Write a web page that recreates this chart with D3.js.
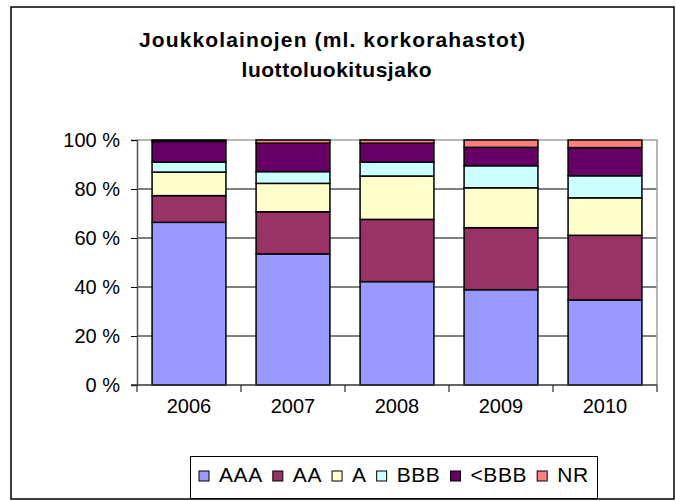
<!DOCTYPE html>
<html>
<head>
<meta charset="utf-8">
<script src="https://cdn.jsdelivr.net/npm/d3@7"></script>
<style>
  body { margin: 0; background: #fff; }
  text { font-family: "Liberation Sans", Arial, sans-serif; fill: #000; }
</style>
</head>
<body>
<div id="chart"></div>
<script>
// data (percent shares per year)
var years = ["2006", "2007", "2008", "2009", "2010"];
var ratings = ["AAA", "AA", "A", "BBB", "<BBB", "NR"];
var aaa   = [66.4, 53.5, 42.2, 38.9, 34.7];
var aa    = [10.9, 17.2, 25.4, 25.3, 26.4];
var a     = [9.6, 11.6, 17.7, 16.3, 15.3];
var bbb   = [4.1, 4.8, 5.7, 9.0, 9.0];
var belowBbb = [8.4, 11.6, 7.7, 7.5, 11.5];
var nr    = [0.6, 1.3, 1.3, 3.0, 3.1];
var yTicks = [0, 20, 40, 60, 80, 100];
var titleLines = ["Joukkolainojen (ml. korkorahastot)", "luottoluokitusjako"];

var colors = ["#9999ff", "#993366", "#ffffcc", "#ccffff", "#660066", "#ff8080"];

var width = 676, height = 501;
var plot = { left: 137, right: 657, top: 140, bottom: 385 };

var svg = d3.select("#chart").append("svg")
    .attr("width", width)
    .attr("height", height);

// outer frame
svg.append("rect")
    .attr("x", 11).attr("y", 7)
    .attr("width", 663).attr("height", 492)
    .attr("fill", "#fff")
    .attr("stroke", "#000")
    .attr("stroke-width", 1.5);

// title
var titleWidths = [386, 190];
svg.selectAll(".title")
    .data(titleLines)
    .enter()
    .append("text")
    .attr("class", "title")
    .attr("x", (d, i) => i == 0 ? 332 : 336.5)
    .attr("y", (d, i) => 47 + i * 30)
    .attr("text-anchor", "middle")
    .attr("font-size", 21)
    .attr("font-weight", "bold")
    .attr("textLength", (d, i) => titleWidths[i])
    .attr("lengthAdjust", "spacing")
    .text(d => d);

// build rows for stacking
var series = [aaa, aa, a, bbb, belowBbb, nr];
var rows = years.map(function(y, i) {
    var row = { year: y };
    ratings.forEach(function(r, j) { row[r] = series[j][i]; });
    return row;
});
var stacked = d3.stack().keys(ratings)(rows);

var x = d3.scaleBand()
    .domain(years)
    .range([plot.left, plot.right])
    .paddingInner(0.29)
    .paddingOuter(0.145);

var y = d3.scaleLinear()
    .domain([0, 100])
    .range([plot.bottom, plot.top]);

// gridlines
svg.append("g")
    .selectAll("line")
    .data(yTicks.filter(d => d > 0 && d < 100))
    .enter()
    .append("line")
    .attr("x1", plot.left).attr("x2", plot.right)
    .attr("y1", d => y(d)).attr("y2", d => y(d))
    .attr("stroke", "#000")
    .attr("stroke-width", 1);

// plot area border (grey, top and right)
svg.append("path")
    .attr("d", `M${plot.left},${y(100)}H${plot.right}V${plot.bottom}`)
    .attr("fill", "none")
    .attr("stroke", "#a0a0a0")
    .attr("stroke-width", 1.5);

// bars
svg.append("g")
    .selectAll("g")
    .data(stacked)
    .enter()
    .append("g")
    .attr("fill", (d, i) => colors[i])
    .selectAll("rect")
    .data(d => d)
    .enter()
    .append("rect")
    .attr("x", d => x(d.data.year))
    .attr("width", x.bandwidth())
    .attr("y", d => y(d[1]))
    .attr("height", d => y(d[0]) - y(d[1]))
    .attr("stroke", "#000")
    .attr("stroke-width", 1.5);

// y axis
var leftAxis = d3.axisLeft(y)
    .tickValues(yTicks)
    .tickSize(6)
    .tickPadding(11)
    .tickFormat(d => d + " %");

var yAxis = svg.append("g")
    .attr("transform", `translate(${plot.left},0)`)
    .call(leftAxis);
yAxis.select(".domain").attr("stroke", "#555").attr("stroke-width", 1.5);
yAxis.selectAll(".tick line").attr("stroke", "#000");
yAxis.selectAll("text")
    .attr("font-size", 20)
    .attr("font-family", "Liberation Sans, Arial, sans-serif")
    .attr("fill", "#000");

// x axis: labels at centres, ticks between categories
var bottomAxis = d3.axisBottom(x).tickSize(0).tickPadding(14);
var xAxis = svg.append("g")
    .attr("transform", `translate(0,${plot.bottom})`)
    .call(bottomAxis);
xAxis.select(".domain").remove();
xAxis.selectAll("text")
    .attr("font-size", 20)
    .attr("font-family", "Liberation Sans, Arial, sans-serif")
    .attr("fill", "#000");

var bounds = years.map(d => x(d) - x.step() * x.paddingInner() / 2);
bounds.push(plot.right);
bounds[0] = plot.left;
svg.append("g")
    .selectAll("line")
    .data(bounds)
    .enter()
    .append("line")
    .attr("x1", d => d).attr("x2", d => d)
    .attr("y1", plot.bottom).attr("y2", plot.bottom + 7)
    .attr("stroke", "#555")
    .attr("stroke-width", 1.5);

svg.append("line")
    .attr("x1", plot.left - 6).attr("x2", plot.right)
    .attr("y1", plot.bottom).attr("y2", plot.bottom)
    .attr("stroke", "#333")
    .attr("stroke-width", 1.5);

// legend
var legend = svg.append("g");
legend.append("rect")
    .attr("x", 190.5).attr("y", 456.5)
    .attr("width", 407).attr("height", 42)
    .attr("fill", "#fff")
    .attr("stroke", "#000")
    .attr("stroke-width", 1);

var lx = 199;
ratings.forEach(function(r, i) {
    legend.append("rect")
        .attr("x", lx).attr("y", 471)
        .attr("width", 10).attr("height", 10)
        .attr("fill", colors[i])
        .attr("stroke", "#000")
        .attr("stroke-width", 1);
    var t = legend.append("text")
        .attr("x", lx + 20)
        .attr("y", 482)
        .attr("font-size", 21)
        .attr("letter-spacing", 0.6)
        .text(r);
    lx += 20 + t.node().getComputedTextLength() + 10;
});
</script>
</body>
</html>
